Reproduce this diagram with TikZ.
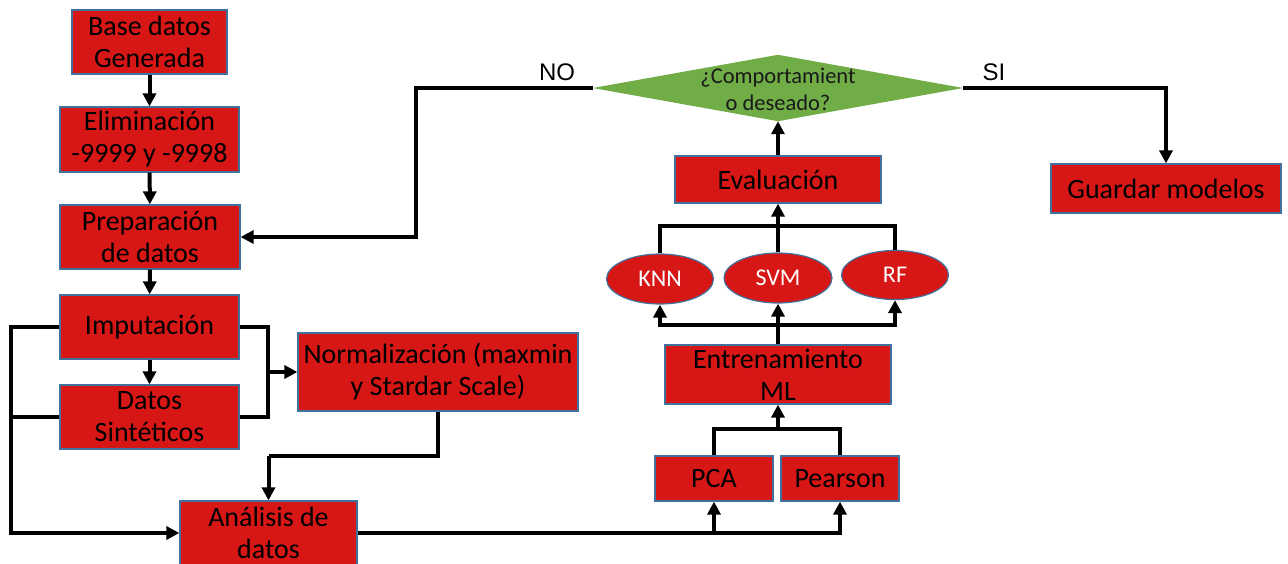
\documentclass[tikz,border=0pt]{standalone}
\usepackage{fontspec}
\setmainfont{Carlito}
\newfontfamily\arialfont{Liberation Sans}
\usetikzlibrary{arrows.meta,calc,shapes.geometric}
\definecolor{boxred}{RGB}{215,22,22}
\definecolor{boxedge}{RGB}{65,113,156}
\definecolor{decgreen}{RGB}{112,173,71}
\tikzset{
  stepbox/.style={draw=boxedge, line width=1.2pt, fill=boxred, inner sep=0pt,
    align=center, font=\fontsize{28}{32}\selectfont, text=black},
  modelnode/.style={ellipse, draw=boxedge, line width=1.2pt, fill=boxred, inner sep=0pt,
    font=\fontsize{24}{28}\selectfont, text=white},
  conn/.style={line width=4pt, draw=black},
  arr/.style={conn, -{Triangle[length=13pt,width=13pt]}},
  branchlabel/.style={font=\arialfont\fontsize{24}{28}\selectfont, text=black}
}
\begin{document}
\begin{tikzpicture}[x=1pt,y=-1pt]
\useasboundingbox (0,0) rectangle (1288,563);
\clip (0,0) rectangle (1288,563);

% left column
\node[stepbox, minimum width=155pt, minimum height=64pt] (base) at (149.5,42) {Base datos\\Generada};
\node[stepbox, minimum width=179pt, minimum height=65pt] (elim) at (149.5,139.5) {Eliminación\\-9999 y -9998};
\node[stepbox, minimum width=180pt, minimum height=64pt] (prep) at (150,237) {Preparación\\de datos};
\node[stepbox, minimum width=179pt, minimum height=64pt] (imput) at (149.5,327) {Imputación};
\node[stepbox, minimum width=179pt, minimum height=64pt] (datos) at (149.5,417) {Datos\\Sintéticos};
\node[stepbox, minimum width=280pt, minimum height=78pt] (norm) at (438,372) {Normalización (maxmin\\y Stardar Scale)};
\node[stepbox, minimum width=177pt, minimum height=64pt] (anal) at (268.5,533) {Análisis de\\datos};

% feature selection and training
\node[stepbox, minimum width=118pt, minimum height=45pt] (pca) at (714,478.5) {PCA};
\node[stepbox, minimum width=118pt, minimum height=45pt] (pearson) at (840,478.5) {Pearson};
\node[stepbox, minimum width=226pt, minimum height=59pt] (entr) at (778,374.5) {Entrenamiento\\ML};
\node[modelnode, minimum width=107pt, minimum height=50pt] (knn) at (660,279) {KNN};
\node[modelnode, minimum width=108pt, minimum height=50pt] (svm) at (778,278) {SVM};
\node[modelnode, minimum width=107pt, minimum height=49pt] (rf) at (895,275) {RF};
\node[stepbox, minimum width=206pt, minimum height=47pt] (eval) at (778,179.5) {Evaluación};

% decision
\node[minimum width=370pt, minimum height=66pt, inner sep=0pt] (dec) at (778,88) {};
\fill[decgreen] (dec.west) -- (dec.north) -- (dec.east) -- (dec.south) -- cycle;
\node[align=center, font=\fontsize{22.5}{27}\selectfont, text=black!90] at (778,89) {¿Comportamient\\o deseado?};
\node[stepbox, minimum width=230pt, minimum height=49pt] (save) at (1166,188.5) {Guardar modelos};

% helper points for the orthogonal connectors
\coordinate (lx) at (11,0);
\coordinate (rx) at (268,0);
\coordinate (nb) at (268.5,456);
\coordinate (pj) at (778,429);
\coordinate (bj) at (778,325);
\coordinate (tj) at (778,226);
\coordinate (nox) at (416,88);

% connectors
\draw[arr] (base) -- (elim);
\draw[arr] (elim) -- (prep);
\draw[arr] (prep) -- (imput);
\draw[arr] (imput) -- (datos);
\draw[arr] (imput.west) -- (imput.west -| lx) |- (anal.west);
\draw[conn] (datos.west) -- (datos.west -| lx);
\draw[conn] (imput.east) -- (imput.east -| rx) -- (datos.east -| rx) -- (datos.east);
\draw[arr] (norm.west -| rx) -- (norm.west);
\draw[conn] (norm.south) |- (nb);
\draw[arr] (nb) -- (anal.north);
\draw[arr] (anal.east) -| (pearson.south);
\draw[arr] (pca.south |- anal.east) -- (pca.south);
\draw[conn] (pca.north) |- (pj) -| (pearson.north);
\draw[arr] (pj) -- (entr.south);
\draw[arr] (entr.north) -- (svm.south);
\draw[arr] (bj) -| (knn.south);
\draw[arr] (bj) -| (rf.south);
\draw[conn] (knn.north) |- (tj) -| (rf.north);
\draw[arr] (svm.north) -- (eval.south);
\draw[arr] (eval.north) -- (dec.south);
\draw[arr] (dec.west) -- (nox) |- (prep.east);
\draw[arr] (dec.east) -| (save.north);

\node[branchlabel] (no) at (557,72) {NO};
\node[branchlabel] (si) at (994,72) {SI};
\end{tikzpicture}
\end{document}
